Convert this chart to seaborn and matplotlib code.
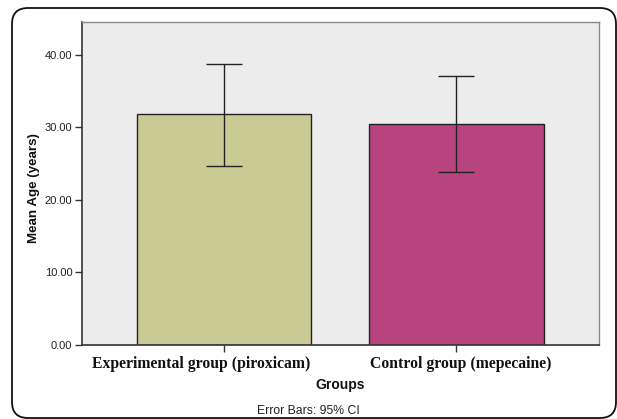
import matplotlib
matplotlib.use("Agg")
import matplotlib.pyplot as plt
import seaborn as sns
import pandas as pd
from matplotlib.patches import FancyBboxPatch
from matplotlib.transforms import IdentityTransform, ScaledTranslation

groups = ["Experimental group (piroxicam)", "Control group (mepecaine)"]
mean_age = [31.8, 30.55]
ci_low = [24.75, 23.8]
ci_high = [38.8, 37.1]
bar_colors = ["#CACA94", "#B8447F"]
y_ticks = [0, 10, 20, 30, 40]

df = pd.DataFrame({"group": groups, "age": mean_age})

sns.set_theme(style="white")
plt.rcParams["font.family"] = ["Liberation Sans", "DejaVu Sans"]

fig = plt.figure(figsize=(6.17, 4.19), dpi=100)
ax = fig.add_axes([82 / 617, 74 / 419, 517 / 617, 323 / 419])
ax.set_facecolor("#ECECEC")

sns.barplot(data=df, x="group", y="age", hue="group", palette=bar_colors,
            saturation=1, legend=False, width=0.754, edgecolor="#222222",
            linewidth=1.0, errorbar=None, ax=ax, zorder=2)

xs = list(range(len(groups)))
lower = [m - lo for m, lo in zip(mean_age, ci_low)]
upper = [hi - m for m, hi in zip(mean_age, ci_high)]
ax.errorbar(xs, mean_age, yerr=[lower, upper], fmt="none", ecolor="#222222",
            elinewidth=1.0, capsize=13, capthick=1.0, zorder=3)

ax.set_xlim(-0.612, 1.616)
ax.set_ylim(0, 44.55)
ax.set_yticks(y_ticks)
ax.set_yticklabels([f"{v:.2f}" for v in y_ticks], fontsize=8, color="#222222")
ax.set_xticks(xs)
ax.set_xticklabels(groups, fontsize=11.3, fontweight="bold",
                   family=["Liberation Serif", "DejaVu Serif"], color="#111111")
ax.tick_params(axis="both", which="both", direction="out", length=5, width=1,
               color="#333333", left=True, bottom=True, pad=2)
ax.tick_params(axis="x", pad=3)

# category labels sit slightly off-centre under their ticks
label_shift_px = [-23, 5]
for lbl, dx in zip(ax.get_xticklabels(), label_shift_px):
    lbl.set_transform(lbl.get_transform() +
                      ScaledTranslation(dx / fig.dpi, 0, fig.dpi_scale_trans))

for side in ["left", "bottom"]:
    ax.spines[side].set_color("#333333")
    ax.spines[side].set_linewidth(1.2)
for side in ["top", "right"]:
    ax.spines[side].set_color("#8A8A8A")
    ax.spines[side].set_linewidth(1.0)

ax.set_xlabel("")
ax.set_ylabel("")
fig.text(340 / 617, 1 - 385 / 419, "Groups", ha="center", va="center",
         fontsize=10, fontweight="bold", color="#111111")
fig.text(34 / 617, 1 - 188 / 419, "Mean Age (years)", ha="center", va="center",
         rotation=90, fontsize=9.6, fontweight="bold", color="#111111")
fig.text(308.5 / 617, 1 - 411 / 419, "Error Bars: 95% CI", ha="center", va="center",
         fontsize=8.8, color="#222222")

frame = FancyBboxPatch((12, 1), 604, 410,
                       boxstyle="round,pad=0,rounding_size=16",
                       transform=IdentityTransform(), fill=False,
                       edgecolor="#111111", linewidth=1.3)
fig.patches.append(frame)

fig.savefig("out.png", dpi=100)
